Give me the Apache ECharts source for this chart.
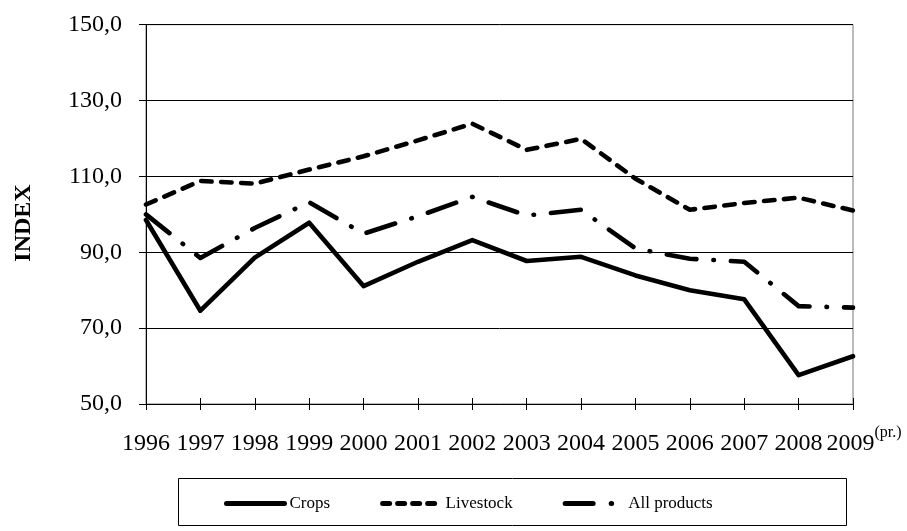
<!DOCTYPE html>
<html>
<head>
<meta charset="utf-8">
<script src="https://cdn.jsdelivr.net/npm/echarts@6/dist/echarts.min.js"></script>
<style>
html,body{margin:0;padding:0;background:#fff;}
#c{width:907px;height:531px;}
</style>
</head>
<body>
<div id="c"></div>
<script>
const years = ['1996','1997','1998','1999','2000','2001','2002','2003','2004','2005','2006','2007','2008','2009'];
const crops = [98.5, 74.6, 88.6, 97.8, 81.1, 87.5, 93.2, 87.7, 88.8, 83.9, 80.0, 77.6, 57.6, 62.6];
const livestock = [102.6, 108.8, 108.1, 111.8, 115.3, 119.5, 123.9, 117.0, 119.9, 109.4, 101.2, 103.0, 104.4, 101.0];
const allProducts = [100.0, 88.5, 96.4, 103.2, 94.9, 99.5, 104.6, 99.7, 101.2, 91.0, 88.3, 87.5, 75.8, 75.4];
const yTicks = {min: 50, max: 150, interval: 20};

const FONT = '"Liberation Serif","Times New Roman",serif';
const chart = echarts.init(document.getElementById('c'));

function xLabel(v, i) {
  if (i === years.length - 1) return '{pad|}{y|' + v + '}{sup|(pr.)}';
  return '{y|' + v + '}';
}

const common = {
  type: 'line', showSymbol: false, symbol: 'none', animation: false,
  lineStyle: {color: '#000', width: 4.6, cap: 'round', join: 'round'},
  itemStyle: {color: '#000'}
};
const hiddenSym = {color: 'rgba(0,0,0,0)', borderColor: 'rgba(0,0,0,0)', borderWidth: 0};

chart.setOption({
  animation: false,
  backgroundColor: '#fff',
  grid: {left: 146, right: 54, top: 24.7, bottom: 127, show: true, borderColor: '#777', borderWidth: 1, containLabel: false},
  graphic: [
    {type: 'text', x: 24, y: 223, rotation: Math.PI / 2,
     style: {text: 'INDEX', font: 'bold 24px ' + FONT, fill: '#000', align: 'center', verticalAlign: 'middle'}},
    {type: 'rect', shape: {x: 178.5, y: 478.5, width: 668, height: 47},
     style: {fill: 'none', stroke: '#000', lineWidth: 1}, z: 0}
  ],
  legend: {
    left: 219, top: 490, itemWidth: 58, itemHeight: 16, itemGap: 50,
    itemStyle: hiddenSym,
    textStyle: {fontFamily: FONT, fontSize: 17, color: '#000'},
    data: [
      {name: 'Crops', itemStyle: hiddenSym, lineStyle: {width: 5, type: 'solid', cap: 'round', color: '#000'}},
      {name: 'Livestock', itemStyle: hiddenSym, lineStyle: {width: 5, type: [7, 8], cap: 'round', color: '#000'}},
      {name: 'All products', itemStyle: hiddenSym, lineStyle: {width: 5, type: [28, 18, 0.5, 20], cap: 'round', color: '#000'}}
    ]
  },
  xAxis: [{
    type: 'category', data: years, boundaryGap: false,
    axisLine: {lineStyle: {color: '#000', width: 1}},
    axisTick: {show: true, length: 6, interval: 0, lineStyle: {color: '#000'}},
    splitLine: {show: false},
    axisLabel: {
      interval: 0, hideOverlap: false,
      margin: 21, color: '#000', fontFamily: FONT, fontSize: 24,
      formatter: xLabel,
      rich: {
        y: {fontFamily: FONT, fontSize: 24, color: '#000', lineHeight: 38},
        pad: {width: 22},
        sup: {fontFamily: FONT, fontSize: 16, color: '#000', lineHeight: 16, verticalAlign: 'top'}
      }
    }
  }, {
    type: 'category', data: years, boundaryGap: false, position: 'bottom',
    axisLine: {show: false},
    axisTick: {show: true, inside: true, interval: 0, length: 6, lineStyle: {color: '#000'}},
    axisLabel: {show: false}, splitLine: {show: false}
  }],
  yAxis: {
    type: 'value', min: yTicks.min, max: yTicks.max, interval: yTicks.interval,
    axisLine: {show: true, lineStyle: {color: '#000', width: 1}},
    axisTick: {show: true, length: 7, lineStyle: {color: '#000'}},
    splitLine: {show: true, lineStyle: {color: '#000', width: 1}},
    axisLabel: {
      margin: 24, color: '#000', fontFamily: FONT, fontSize: 24,
      formatter: v => v.toFixed(1).replace('.', ',')
    }
  },
  series: [
    Object.assign({}, common, {name: 'Crops', data: crops, z: 3,
      lineStyle: Object.assign({}, common.lineStyle, {type: 'solid'})}),
    Object.assign({}, common, {name: 'Livestock', data: livestock, z: 4,
      lineStyle: Object.assign({}, common.lineStyle, {type: [10.5, 9.5]})}),
    Object.assign({}, common, {name: 'All products', data: allProducts, z: 5,
      lineStyle: Object.assign({}, common.lineStyle, {type: [30, 17, 0.5, 17]})})
  ]
});
</script>
</body>
</html>
